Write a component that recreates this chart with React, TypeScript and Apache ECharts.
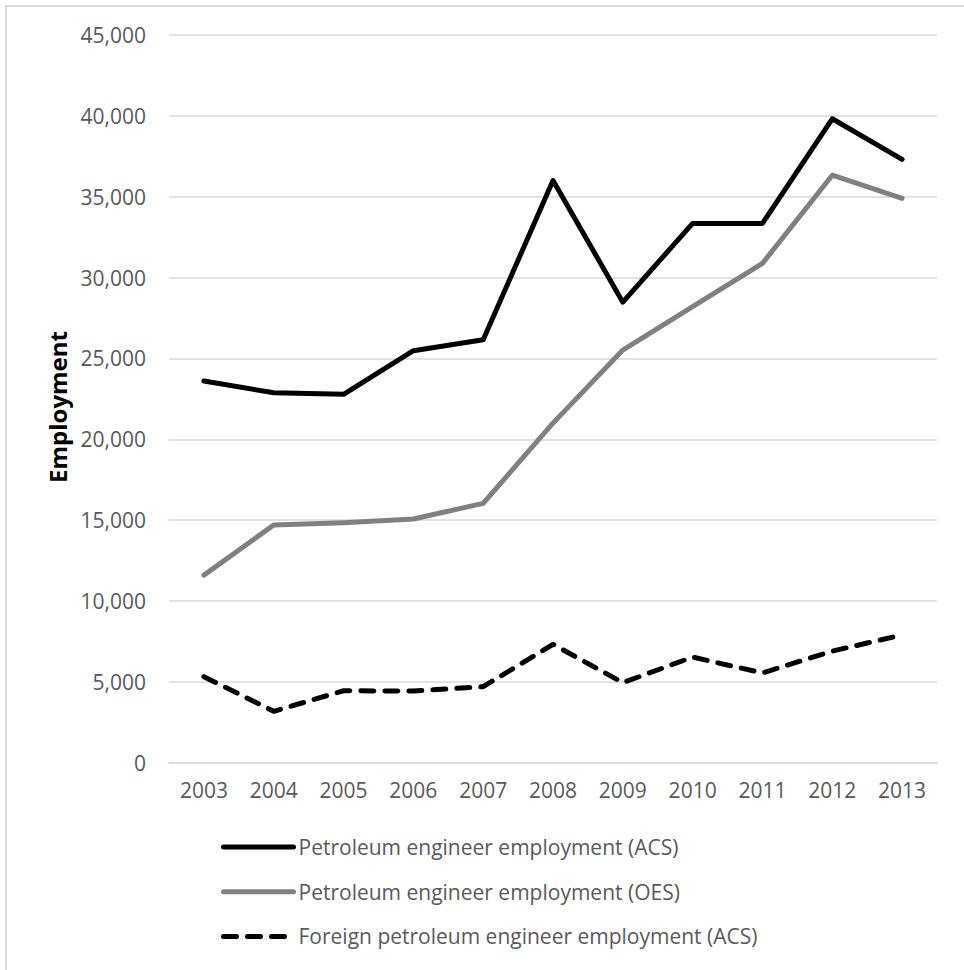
import React, { useEffect, useRef } from "react";
import * as echarts from "echarts";

const years = ["2003", "2004", "2005", "2006", "2007", "2008", "2009", "2010", "2011", "2012", "2013"];
const acs = [23600, 22880, 22780, 25480, 26150, 36000, 28480, 33350, 33350, 39820, 37310];
const oes = [11600, 14700, 14840, 15070, 16040, 21000, 25520, 28200, 30880, 36330, 34900];
const foreign = [5320, 3180, 4450, 4430, 4700, 7320, 4950, 6530, 5550, 6900, 7900];
const seriesNames = [
  "Petroleum engineer employment (ACS)",
  "Petroleum engineer employment (OES)",
  "Foreign petroleum engineer employment (ACS)",
];
const yTicks = { min: 0, max: 45000, interval: 5000 };

const FONT = "'Open Sans', sans-serif";

export default function App() {
  const ref = useRef<HTMLDivElement>(null);
  useEffect(() => {
    if (!ref.current) return;
    const chart = echarts.init(ref.current, undefined, { renderer: "svg" });
    chart.setOption({
      animation: false,
      backgroundColor: "#ffffff",
      grid: { left: 169, right: 27, top: 35, bottom: 207.3, containLabel: false },
      xAxis: {
        type: "category",
        data: years,
        boundaryGap: true,
        axisLine: { show: true, lineStyle: { color: "#d9d9d9", width: 1.5 } },
        axisTick: { show: false },
        axisLabel: { color: "#595959", fontSize: 21, fontFamily: FONT, margin: 17 },
        splitLine: { show: false },
      },
      yAxis: {
        type: "value",
        min: yTicks.min,
        max: yTicks.max,
        interval: yTicks.interval,
        axisLine: { show: false },
        axisTick: { show: false },
        axisLabel: {
          color: "#595959",
          fontSize: 21,
          fontFamily: FONT,
          margin: 23,
          formatter: (v: number) => v.toLocaleString("en-US"),
        },
        splitLine: { lineStyle: { color: "#d9d9d9", width: 1.5 } },
      },
      legend: {
        orient: "vertical",
        left: 216,
        top: 830,
        itemWidth: 70,
        itemHeight: 24,
        itemGap: 20.7,
        itemStyle: { opacity: 0 },
        lineStyle: { width: 5 },
        textStyle: { color: "#595959", fontSize: 21, fontFamily: FONT, lineHeight: 24 },
        data: seriesNames,
      },
      graphic: [
        {
          type: "rect",
          shape: { x: 6, y: 6, width: 1200, height: 1200 },
          style: { fill: "none", stroke: "#d9d9d9", lineWidth: 2 },
          silent: true,
          z: -10,
        },
        {
          type: "text",
          x: 57,
          y: 407,
          rotation: Math.PI / 2,
          style: {
            text: "Employment",
            fill: "#000000",
            font: `bold 24px ${FONT}`,
            textAlign: "center",
            textVerticalAlign: "middle",
          },
        },
      ],
      series: [
        {
          name: seriesNames[0],
          type: "line",
          data: acs,
          symbol: "none",
          lineStyle: { color: "#000000", width: 5, cap: "round", join: "round" },
          itemStyle: { color: "#000000" },
        },
        {
          name: seriesNames[1],
          type: "line",
          data: oes,
          symbol: "none",
          lineStyle: { color: "#808080", width: 5, cap: "round", join: "round" },
          itemStyle: { color: "#808080" },
        },
        {
          name: seriesNames[2],
          type: "line",
          data: foreign,
          symbol: "none",
          lineStyle: { color: "#000000", width: 5, type: [13, 11], cap: "round", join: "round" },
          itemStyle: { color: "#000000" },
        },
      ],
    });
    return () => chart.dispose();
  }, []);
  return (
    <div
      ref={ref}
      style={{ position: "absolute", left: 0, top: 0, width: 964, height: 970 }}
    />
  );
}
